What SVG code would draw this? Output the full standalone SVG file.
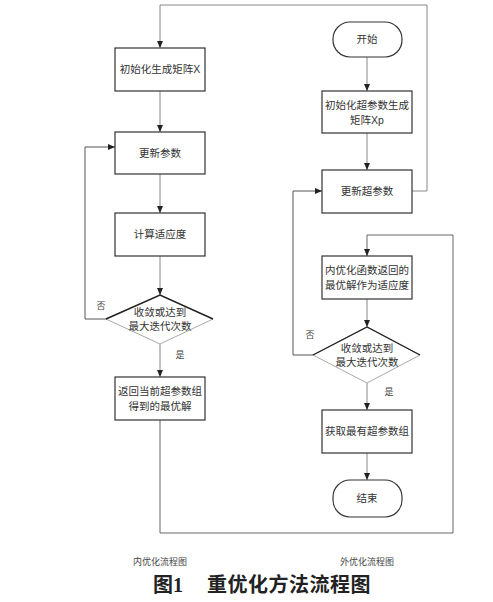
<svg xmlns="http://www.w3.org/2000/svg" width="493" height="602" viewBox="0 0 493 602">
<defs>
<marker id="arr" markerWidth="8" markerHeight="8" refX="7" refY="4" orient="auto" markerUnits="userSpaceOnUse">
<path d="M0,1 L7,4 L0,7 Z" fill="#222"/>
</marker>
<style>
.box{fill:#fff;stroke:#333;stroke-width:1.2}
.dia{fill:#fff;stroke:#aaa;stroke-width:1}
.diatop{fill:none;stroke:#222;stroke-width:1.4}
.ln{fill:none;stroke:#888;stroke-width:1}
.t{font-family:"Liberation Sans","Noto Sans CJK SC",sans-serif;font-size:10.5px;fill:#333;text-anchor:middle}
.s{font-family:"Liberation Sans","Noto Sans CJK SC",sans-serif;font-size:9px;fill:#444;text-anchor:middle}
.cap{font-family:"Liberation Serif","Noto Sans CJK SC",serif;font-size:20px;font-weight:bold;fill:#222}
</style>
</defs>
<rect width="493" height="602" fill="#fff"/>
<g id="connectors">
<polyline class="ln" points="412,191 427,191 427,5 160,5 160,48" marker-end="url(#arr)"/>
<line class="ln" x1="160" y1="91" x2="160" y2="132" marker-end="url(#arr)"/>
<line class="ln" x1="160" y1="174" x2="160" y2="213" marker-end="url(#arr)"/>
<line class="ln" x1="160" y1="256" x2="160" y2="295" marker-end="url(#arr)"/>
<polyline class="ln" points="106,319 85,319 85,147 115,147" marker-end="url(#arr)" style="stroke:#555"/>
<line class="ln" x1="160" y1="344" x2="160" y2="377" marker-end="url(#arr)"/>
<polyline class="ln" points="160,420 160,533 453,533 453,235 367,235 367,256" marker-end="url(#arr)" style="stroke:#666"/>
<line class="ln" x1="367" y1="57" x2="367" y2="91" marker-end="url(#arr)"/>
<line class="ln" x1="367" y1="133" x2="367" y2="170" marker-end="url(#arr)"/>
<line class="ln" x1="367" y1="299" x2="367" y2="327" marker-end="url(#arr)"/>
<polyline class="ln" points="313,355 293,355 293,191 322,191" marker-end="url(#arr)" style="stroke:#555"/>
<line class="ln" x1="367" y1="383" x2="367" y2="410" marker-end="url(#arr)"/>
<line class="ln" x1="367" y1="453" x2="367" y2="480" marker-end="url(#arr)"/>
<text class="s" x="101" y="309">否</text>
<text class="s" x="180" y="358">是</text>
<text class="s" x="310" y="338">否</text>
<text class="s" x="389" y="395">是</text>
</g>
<g id="init-x">
<rect class="box" x="115" y="48" width="90" height="43"/>
<text class="t" x="160" y="73">初始化生成矩阵X</text>
</g>
<g id="update-params">
<rect class="box" x="115" y="132" width="90" height="42"/>
<text class="t" x="160" y="157">更新参数</text>
</g>
<g id="calc-fitness">
<rect class="box" x="115" y="213" width="90" height="43"/>
<text class="t" x="160" y="238">计算适应度</text>
</g>
<g id="inner-check">
<polygon class="dia" points="160,295 213,319 160,344 106,319"/>
<polyline class="diatop" points="106,319 160,295 213,319"/>
<text class="t" x="160" y="316">收敛或达到</text>
<text class="t" x="160" y="330">最大迭代次数</text>
</g>
<g id="return-best">
<rect class="box" x="115" y="377" width="90" height="43"/>
<text class="t" x="160" y="395">返回当前超参数组</text>
<text class="t" x="160" y="410">得到的最优解</text>
</g>
<g id="start">
<rect class="box" x="333" y="22" width="69" height="35" rx="17" ry="17"/>
<text class="t" x="367" y="43">开始</text>
</g>
<g id="init-xp">
<rect class="box" x="322" y="91" width="90" height="42"/>
<text class="t" x="367" y="109">初始化超参数生成</text>
<text class="t" x="367" y="124">矩阵Xp</text>
</g>
<g id="update-hyper">
<rect class="box" x="322" y="170" width="90" height="43"/>
<text class="t" x="367" y="195">更新超参数</text>
</g>
<g id="inner-return">
<rect class="box" x="322" y="256" width="90" height="43"/>
<text class="t" x="367" y="274">内优化函数返回的</text>
<text class="t" x="367" y="289">最优解作为适应度</text>
</g>
<g id="outer-check">
<polygon class="dia" points="367,327 420,355 367,383 313,355"/>
<polyline class="diatop" points="313,355 367,327 420,355"/>
<text class="t" x="367" y="352">收敛或达到</text>
<text class="t" x="367" y="366">最大迭代次数</text>
</g>
<g id="get-best">
<rect class="box" x="322" y="410" width="90" height="43"/>
<text class="t" x="367" y="435">获取最有超参数组</text>
</g>
<g id="end">
<rect class="box" x="333" y="480" width="69" height="37" rx="17" ry="17"/>
<text class="t" x="367" y="502">结束</text>
</g>
<g id="labels">
<text class="s" x="160" y="565">内优化流程图</text>
<text class="s" x="367" y="565">外优化流程图</text>
<text class="cap" x="153" y="592">图1</text>
<text class="cap" x="207" y="592" letter-spacing="0.5">重优化方法流程图</text>
</g>
</svg>
